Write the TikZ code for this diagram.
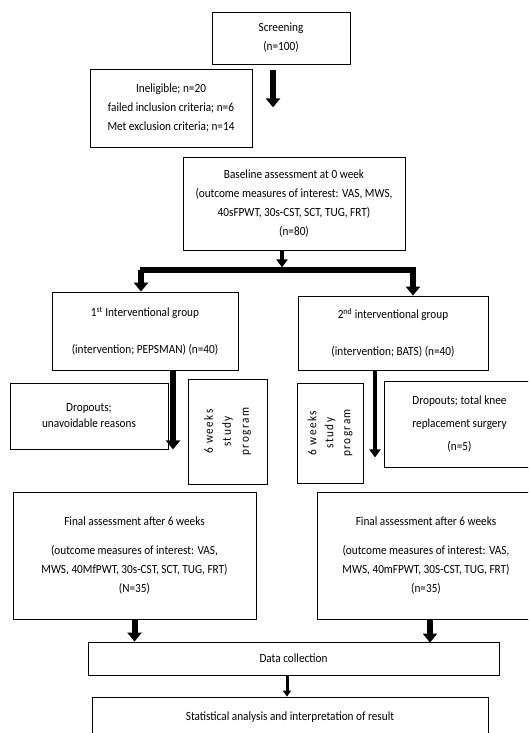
\documentclass[tikz,border=0pt]{standalone}
\usepackage{fontspec}
\setmainfont[FakeStretch=0.9]{Carlito}
\newfontfamily\spacedfont[LetterSpace=12,FakeStretch=0.9]{Carlito}
\usetikzlibrary{arrows.meta}
\begin{document}
\begin{tikzpicture}[x=1pt,y=-1pt,
  box/.style={draw, line width=0.8pt, align=center, inner sep=0pt, font=\fontsize{12.5}{19}\selectfont},
  fat/.style={line width=6pt, -{Triangle[width=14pt,length=9pt]}},
  mid/.style={line width=4.5pt, -{Triangle[width=11pt,length=8pt]}},
  thin/.style={line width=3pt, -{Triangle[width=8pt,length=6pt]}}]
\useasboundingbox (0,0) rectangle (528,733);
\clip (0,0) rectangle (528,733);
% boxes
\node[box, minimum width=138pt, minimum height=52pt] (scr) at (281,38) {Screening\\(n=100)};
\node[box, minimum width=162pt, minimum height=78pt] (inel) at (171,108) {Ineligible; n=20\\failed inclusion criteria; n=6\\Met exclusion criteria; n=14};
\node[box, minimum width=222pt, minimum height=93pt] (base) at (294,203.5) {Baseline assessment at 0 week\\(outcome measures of interest: VAS, MWS,\\40sFPWT, 30s-CST, SCT, TUG, FRT)\\(n=80)};
\node[box, minimum width=186pt, minimum height=78pt, font=\fontsize{12.5}{37}\selectfont] (g1) at (145,331) {1\textsuperscript{st} Interventional group\\(intervention; PEPSMAN) (n=40)};
\node[box, minimum width=190pt, minimum height=74pt, font=\fontsize{12.5}{37}\selectfont] (g2) at (393,333) {2\textsuperscript{nd} interventional group\\(intervention; BATS) (n=40)};
\node[box, minimum width=158pt, minimum height=66pt, font=\fontsize{12.5}{16}\selectfont] (d1) at (89,416) {Dropouts;\\unavoidable reasons};
\node[box, rotate=90, minimum width=105pt, minimum height=79pt, font=\fontsize{12.5}{18}\spacedfont] (w1) at (227.5,431.5) {6 weeks\\study\\program};
\node[box, rotate=90, minimum width=100pt, minimum height=66pt, font=\fontsize{12.5}{17}\spacedfont] (w2) at (330,433) {6 weeks\\study\\program};
\node[box, minimum width=151pt, minimum height=86pt, font=\fontsize{12.5}{23}\selectfont] (d2) at (459.5,424) {Dropouts; total knee\\replacement surgery\\(n=5)};
\node[box, minimum width=243pt, minimum height=127pt] (f1) at (134.5,555.5) {Final assessment after 6 weeks\\[10pt](outcome measures of interest: VAS,\\MWS, 40MfPWT, 30s-CST, SCT, TUG, FRT)\\(N=35)};
\node[box, minimum width=218pt, minimum height=127pt] (f2) at (426,555.5) {Final assessment after 6 weeks\\[10pt](outcome measures of interest: VAS,\\MWS, 40mFPWT, 30S-CST, TUG, FRT)\\(n=35)};
\node[box, minimum width=411pt, minimum height=33pt] (dc) at (293.5,658.5) {Data collection};
\node[box, minimum width=396pt, minimum height=40pt] (sa) at (290,717) {Statistical analysis and interpretation of result};
% connectors
\draw[fat] ([xshift=-8pt,yshift=-6pt]scr.south) -- ++(0,37);
\coordinate (bl) at (140,270);
\coordinate (br) at (416,270);
\draw[line width=6pt] (bl) -- (br);
\draw[mid] ([xshift=-12pt]base.south) -- ++(0,17);
\draw[fat] ([xshift=1pt]bl) -- ([xshift=1pt]bl |- g1.north);
\draw[fat] ([xshift=-3pt]br) -- ([xshift=-3pt]br |- g2.north);
\draw[fat] ([xshift=28pt]g1.south) -- ++(0,79);
\draw[mid] ([xshift=-18pt]g2.south) -- ++(0,87);
\draw[fat] (f1.south) -- (f1.south |- dc.north);
\draw[fat] ([xshift=4pt]f2.south) -- ([xshift=4pt,yshift=-1pt]f2.south |- dc.north);
\draw[thin] ([xshift=-6.5pt]dc.south) -- ([xshift=-6.5pt]dc.south |- sa.north);
\end{tikzpicture}
\end{document}
